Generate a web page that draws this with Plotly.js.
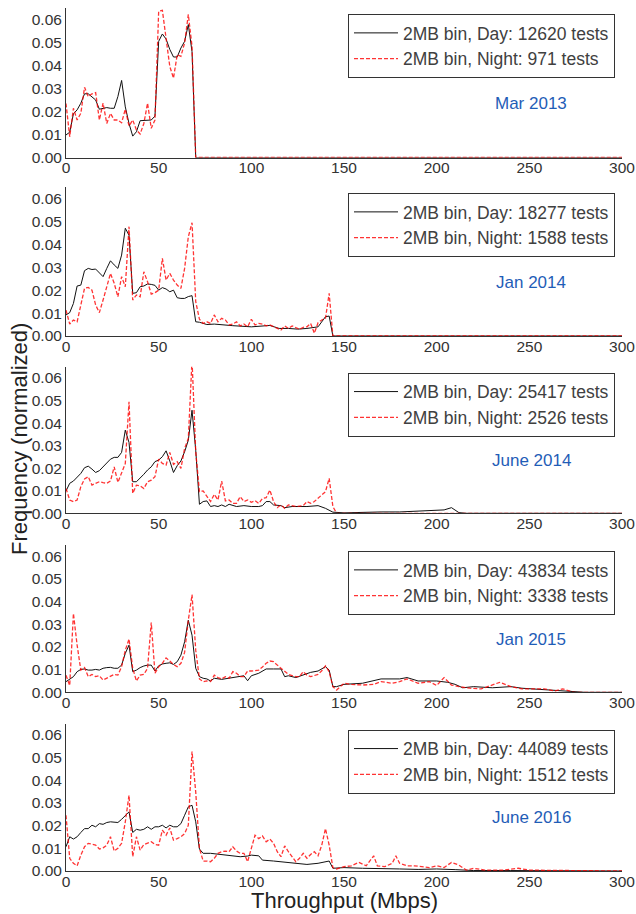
<!DOCTYPE html>
<html>
<head>
<meta charset="utf-8">
<script src="https://cdn.plot.ly/plotly-3.0.1.min.js"></script>
<style>html,body{margin:0;padding:0;background:#fff}#chart{width:636px;height:914px}</style>
</head>
<body>
<div id="chart"></div>
<script>
// ---------- DATA ----------
const panelLabels = ["Mar 2013", "Jan 2014", "June 2014", "Jan 2015", "June 2016"];
const dayNames = ["2MB bin, Day: 12620 tests", "2MB bin, Day: 18277 tests", "2MB bin, Day: 25417 tests", "2MB bin, Day: 43834 tests", "2MB bin, Day: 44089 tests"];
const nightNames = ["2MB bin, Night: 971 tests", "2MB bin, Night: 1588 tests", "2MB bin, Night: 2526 tests", "2MB bin, Night: 3338 tests", "2MB bin, Night: 1512 tests"];
const xTicks = [0, 50, 100, 150, 200, 250, 300];
const yTicks = [0.00, 0.01, 0.02, 0.03, 0.04, 0.05, 0.06];

// Mar 2013
const mar13DayX = [0,2,4,6,8,10,12,14,16,18,20,22,24,26,28,30,32,34,36,38,40,42,44,46,48,50,52,54,56,58,60,62,64,66,68,70,300];
const mar13DayY = [0.0098,0.011,0.019,0.0207,0.0236,0.0277,0.0277,0.0265,0.025,0.021,0.0214,0.0217,0.0214,0.0214,0.0265,0.0335,0.022,0.0148,0.0093,0.0112,0.016,0.016,0.016,0.0163,0.018,0.0505,0.0537,0.0515,0.047,0.0437,0.0437,0.0476,0.0505,0.0578,0.046,0,0];
const mar13NightX = [0,2,4,6,8,10,12,14,16,18,20,22,24,26,28,30,32,34,36,38,40,42,44,46,48,50,52,54,56,58,60,62,64,66,68,70,300];
const mar13NightY = [0.0235,0.009,0.0214,0.0163,0.0192,0.0305,0.0265,0.0277,0.0282,0.0163,0.0236,0.0148,0.0192,0.0163,0.0163,0.0151,0.021,0.0137,0.0163,0.012,0.0102,0.0148,0.0236,0.0127,0.0163,0.0636,0.064,0.0512,0.0396,0.0345,0.0447,0.044,0.0498,0.0622,0.0483,0,0];

// Jan 2014
const jan14DayX = [0,2,4,6,8,10,12,14,16,18,20,22,24,26,28,30,32,34,36,38,40,42,44,46,48,50,52,54,56,58,60,62,64,66,68,70,72,76,80,90,100,110,115,120,125,130,136,140,142,144,300];
const jan14DayY = [0.0092,0.0102,0.0142,0.0218,0.0222,0.0285,0.0295,0.029,0.0292,0.0273,0.0259,0.0295,0.0328,0.031,0.0295,0.0353,0.047,0.044,0.0186,0.0189,0.0215,0.0218,0.0227,0.0225,0.0221,0.02,0.0211,0.0205,0.0193,0.02,0.0167,0.0164,0.0164,0.0172,0.0176,0.0062,0.006,0.005,0.0052,0.0045,0.004,0.0046,0.0033,0.0033,0.003,0.0033,0.004,0.0084,0.0087,0,0];
const jan14NightX = [0,2,4,6,8,10,12,14,16,18,20,22,24,26,28,30,32,34,36,38,40,42,44,46,48,50,52,54,56,58,60,62,64,66,68,70,72,74,76,78,80,82,84,86,88,90,92,94,96,98,100,102,104,106,108,110,112,114,116,118,120,122,124,126,128,130,132,134,136,138,140,142,144,300];
const jan14NightY = [0.0113,0.0052,0.007,0.0062,0.0135,0.0208,0.0212,0.02,0.0135,0.0102,0.0157,0.0215,0.0273,0.023,0.0171,0.0259,0.0215,0.0477,0.0157,0.0179,0.0171,0.028,0.0237,0.0183,0.0189,0.02,0.0339,0.0244,0.0273,0.0244,0.0222,0.0208,0.0295,0.0433,0.0494,0.015,0.0073,0.0055,0.0062,0.0055,0.0092,0.0062,0.0077,0.007,0.0048,0.0052,0.0062,0.0044,0.0052,0.004,0.0073,0.0048,0.0055,0.0052,0.0044,0.0048,0.004,0.0033,0.0026,0.0044,0.0033,0.0044,0.0038,0.0029,0.0038,0.004,0.0055,0.0012,0.0058,0.007,0.0077,0.0186,0,0];

// June 2014
const jun14DayX = [0,2,4,6,8,10,12,14,16,18,20,22,24,26,28,30,32,34,36,38,40,42,44,46,48,50,52,54,56,58,60,62,64,66,68,70,72,74,76,78,80,82,84,86,88,92,96,100,104,106,108,110,112,116,118,122,130,136,140,144,150,160,170,180,190,200,204,208,210,212,216,300];
const jun14DayY = [0.0099,0.0133,0.0143,0.0158,0.0177,0.0202,0.0209,0.0196,0.0181,0.0189,0.0206,0.0226,0.024,0.0248,0.0248,0.027,0.0369,0.0314,0.014,0.014,0.0155,0.0173,0.0192,0.0206,0.0229,0.0236,0.0251,0.0277,0.0232,0.0181,0.0211,0.0232,0.0273,0.0324,0.0457,0.028,0.004,0.0052,0.0055,0.003,0.0034,0.003,0.0037,0.003,0.004,0.003,0.0034,0.003,0.003,0.0034,0.0052,0.0052,0.0037,0.0034,0.0025,0.003,0.003,0.0034,0.0022,0.0005,0.0002,0.0005,0.0006,0.0006,0.0009,0.0012,0.0015,0.0025,0.0014,0.0003,0,0];
const jun14NightX = [0,2,4,6,8,10,12,14,16,18,20,22,24,26,28,30,32,34,36,38,40,42,44,46,48,50,52,54,56,58,60,62,64,66,68,70,72,74,76,78,80,82,84,86,88,90,92,94,96,98,100,102,104,106,108,110,112,114,116,118,120,122,124,126,128,130,132,134,136,138,140,142,144,146,300];
const jun14NightY = [0.011,0.0059,0.0052,0.0059,0.0118,0.0152,0.0162,0.0125,0.0133,0.014,0.0136,0.0133,0.0143,0.0206,0.0137,0.0177,0.0221,0.0494,0.0088,0.0125,0.0122,0.011,0.014,0.0147,0.0162,0.024,0.0221,0.0214,0.027,0.0217,0.0229,0.0199,0.0288,0.0332,0.068,0.0273,0.0096,0.0099,0.0074,0.0052,0.0084,0.0059,0.0143,0.0055,0.0059,0.0044,0.0044,0.0074,0.0052,0.0059,0.0049,0.0056,0.0044,0.0066,0.0069,0.0103,0.0052,0.0025,0.0037,0.0022,0.0037,0.0035,0.003,0.0032,0.0034,0.0052,0.0044,0.0052,0.0066,0.0081,0.0096,0.0155,0.003,0,0];

// Jan 2015
const jan15DayX = [0,2,4,6,8,10,12,14,16,18,20,22,24,26,28,30,32,34,36,38,40,42,44,46,48,50,52,54,56,58,60,62,64,66,68,70,72,74,76,78,80,84,88,92,96,98,100,104,108,112,116,118,120,124,128,130,132,136,140,142,144,146,150,160,170,180,184,190,200,206,210,214,220,230,240,246,256,266,274,280,300];
const jan15DayY = [0.0047,0.0059,0.0069,0.0091,0.0101,0.0103,0.0098,0.0098,0.0101,0.0098,0.0106,0.0109,0.011,0.0106,0.0106,0.012,0.0172,0.0208,0.0091,0.0098,0.0109,0.0116,0.012,0.012,0.0094,0.0117,0.0125,0.0128,0.013,0.0123,0.0135,0.0164,0.0223,0.0318,0.0252,0.0106,0.0069,0.0062,0.0059,0.005,0.0062,0.0057,0.0062,0.0065,0.0073,0.0051,0.0073,0.0084,0.0103,0.0103,0.0103,0.0069,0.0073,0.0065,0.0076,0.008,0.0088,0.0094,0.0113,0.0098,0.0025,0.0025,0.0035,0.004,0.0059,0.0059,0.0065,0.005,0.005,0.0044,0.0035,0.002,0.0025,0.002,0.0025,0.0018,0.0013,0.0007,0.0003,0,0];
const jan15NightX = [0,2,4,6,8,10,12,14,16,18,20,22,24,26,28,30,32,34,36,38,40,42,44,46,48,50,52,54,56,58,60,62,64,66,68,70,72,74,76,78,80,82,84,86,88,90,92,94,96,98,100,102,104,106,108,110,112,114,116,118,120,122,124,126,128,130,132,134,136,138,140,142,144,146,148,150,154,160,166,170,176,180,184,190,196,200,204,208,212,218,224,230,234,240,246,252,258,264,268,274,300];
const jan15NightY = [0.0075,0.003,0.0348,0.0208,0.0098,0.0109,0.0069,0.0079,0.0069,0.0073,0.0054,0.0062,0.0073,0.0079,0.0076,0.0113,0.0186,0.0235,0.0106,0.005,0.0076,0.0079,0.0106,0.0308,0.0084,0.0113,0.0128,0.0152,0.0138,0.0123,0.0113,0.0128,0.0176,0.0318,0.0431,0.0186,0.0059,0.0047,0.005,0.0047,0.0076,0.0065,0.0059,0.0069,0.0062,0.0091,0.0084,0.0069,0.0069,0.0094,0.0094,0.0096,0.0098,0.0112,0.0128,0.0138,0.0135,0.012,0.0106,0.0091,0.0079,0.0074,0.0069,0.0069,0.0091,0.0076,0.0069,0.0074,0.0079,0.0095,0.0117,0.0091,0.0025,0.001,0.0025,0.004,0.0035,0.0032,0.0035,0.0047,0.004,0.0047,0.0059,0.004,0.0047,0.003,0.0065,0.0032,0.0025,0.0018,0.0015,0.0032,0.0044,0.0025,0.0015,0.0015,0.0015,0.0006,0.0015,0,0];

// June 2016
const jun16DayX = [0,2,4,6,8,10,12,14,16,18,20,22,24,26,28,30,32,34,36,38,40,42,44,46,48,50,52,54,56,58,60,62,64,66,68,70,72,74,78,84,90,94,98,100,104,106,112,118,124,130,136,140,142,144,150,160,170,180,190,200,210,220,240,260,280,300];
const jun16DayY = [0.0107,0.0151,0.0141,0.0151,0.017,0.0187,0.0187,0.0202,0.0195,0.0209,0.0206,0.0214,0.0217,0.0217,0.0214,0.0228,0.0246,0.0261,0.017,0.0184,0.018,0.0184,0.0195,0.0184,0.0195,0.0195,0.0202,0.019,0.0202,0.0195,0.0195,0.0209,0.0246,0.0283,0.029,0.0217,0.0097,0.0078,0.0078,0.0073,0.0067,0.0063,0.0066,0.007,0.0067,0.0048,0.0044,0.0038,0.0034,0.0029,0.0034,0.0041,0.0044,0.0012,0.0015,0.0012,0.0012,0.0009,0.0007,0.0009,0.0006,0.0002,0.0002,0.0001,0,0];
const jun16NightX = [0,2,4,6,8,10,12,14,16,18,20,22,24,26,28,30,32,34,36,38,40,42,44,46,48,50,52,54,56,58,60,62,64,66,68,70,72,74,76,78,80,82,84,86,88,90,92,94,96,98,100,102,104,106,108,110,112,114,116,118,120,122,124,126,128,130,132,134,136,138,140,142,144,146,150,154,158,162,166,168,172,176,178,180,184,188,192,196,200,204,208,212,216,220,226,236,244,250,260,270,278,282,300];
const jun16NightY = [0.0246,0.0056,0.0034,0.0023,0.007,0.0107,0.0122,0.0117,0.0114,0.0097,0.0102,0.0114,0.0151,0.0088,0.01,0.0122,0.0217,0.0334,0.0063,0.0151,0.0092,0.0117,0.0122,0.0129,0.0117,0.0114,0.018,0.0158,0.019,0.0136,0.0143,0.0151,0.0165,0.0202,0.0527,0.0348,0.01,0.0044,0.0044,0.0041,0.0056,0.0078,0.0085,0.0088,0.0085,0.0107,0.0088,0.0078,0.0078,0.0041,0.01,0.0158,0.0143,0.0155,0.0129,0.0141,0.0122,0.0085,0.0063,0.0111,0.0085,0.0063,0.0041,0.0056,0.0078,0.0056,0.0073,0.0085,0.0067,0.0114,0.0187,0.0114,0.0015,0.0009,0.0019,0.0023,0.0038,0.0023,0.0067,0.0023,0.0019,0.0034,0.0067,0.0034,0.0023,0.0023,0.0019,0.0015,0.0023,0.0015,0.0038,0.0026,0.0004,0.0012,0.0004,0.0004,0.0012,0.0004,0.0003,0.0003,0.0003,0,0];

// ---------- BUILD ----------
const dayX = [mar13DayX, jan14DayX, jun14DayX, jan15DayX, jun16DayX];
const dayY = [mar13DayY, jan14DayY, jun14DayY, jan15DayY, jun16DayY];
const nightX = [mar13NightX, jan14NightX, jun14NightX, jan15NightX, jun16NightX];
const nightY = [mar13NightY, jan14NightY, jun14NightY, jan15NightY, jun16NightY];

const FONT = "Liberation Sans, Arial, sans-serif";
const H = 914, ML = 66, MR = 14, MT = 8, MB = 43;
const plotH = H - MT - MB;
const panelTop = [8, 187, 366.7, 545, 723.7];
const panelBot = [157.5, 336, 513.3, 692.3, 871.5];
const toPaper = p => (H - MB - p) / plotH;

const traces = [];
const layout = {
  width: 636, height: 914,
  margin: {l: ML, r: MR, t: MT, b: MB},
  paper_bgcolor: "#fff", plot_bgcolor: "#fff",
  font: {family: FONT, size: 15, color: "#333"},
  annotations: [],
  showlegend: true
};

for (let i = 0; i < 5; i++) {
  const s = i === 0 ? "" : String(i + 1);
  const leg = "legend" + s;
  traces.push({
    x: dayX[i], y: dayY[i], type: "scatter", mode: "lines",
    name: dayNames[i], xaxis: "x" + s, yaxis: "y" + s, legend: leg,
    line: {color: "#111", width: 1}
  });
  traces.push({
    x: nightX[i], y: nightY[i], type: "scatter", mode: "lines",
    name: nightNames[i], xaxis: "x" + s, yaxis: "y" + s, legend: leg,
    line: {color: "rgba(255,0,0,0.8)", width: 1.3, dash: "4px,2px"}
  });
  layout["xaxis" + s] = {
    domain: [0, 1], anchor: "y" + s, range: [0, 300],
    tickmode: "array", tickvals: xTicks, ticktext: xTicks.map(String),
    showgrid: false, zeroline: false, showline: true, linecolor: "#333", linewidth: 1,
    ticks: "", ticklen: 0, ticklabelstandoff: -4,
    tickfont: {size: 15.5, color: "#333", family: FONT}, fixedrange: true
  };
  layout["yaxis" + s] = {
    domain: [toPaper(panelBot[i]), toPaper(panelTop[i])], anchor: "x" + s, range: [0, 0.065],
    tickmode: "array", tickvals: yTicks, ticktext: yTicks.map(v => v.toFixed(2)),
    showgrid: false, zeroline: false, showline: true, linecolor: "#333", linewidth: 1,
    ticks: "", ticklen: 0,
    tickfont: {size: 15.5, color: "#333", family: FONT}, fixedrange: true
  };
  layout[leg] = {
    x: (615 - ML) / 556, xanchor: "right",
    y: toPaper(panelTop[i] + 6), yanchor: "top",
    bgcolor: "#fff", bordercolor: "#333", borderwidth: 1,
    font: {size: 17.5, color: "#404040", family: FONT},
    itemwidth: 44, tracegroupgap: 0
  };
  layout.annotations.push({
    xref: "x" + s, yref: "y" + s, x: 251, y: 0.0235,
    text: panelLabels[i], showarrow: false,
    font: {size: 17, color: "#1f5db7", family: FONT}
  });
}

layout.annotations.push({
  xref: "paper", yref: "paper", x: (344 - ML) / 556, y: toPaper(900),
  text: "Throughput (Mbps)", showarrow: false, xanchor: "center", yanchor: "middle",
  font: {size: 22, color: "#222", family: FONT}
});
layout.annotations.push({
  xref: "paper", yref: "paper", x: (19 - ML) / 556, y: toPaper(439),
  text: "Frequency (normalized)", showarrow: false, textangle: -90,
  xanchor: "center", yanchor: "middle",
  font: {size: 22, color: "#222", family: FONT}
});

Plotly.newPlot("chart", traces, layout, {staticPlot: true, displayModeBar: false});
</script>
</body>
</html>
